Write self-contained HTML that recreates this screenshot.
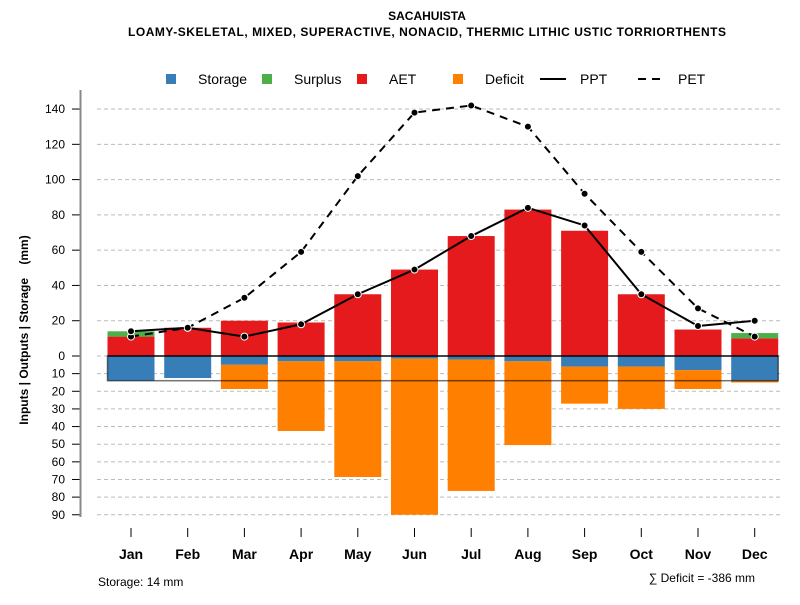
<!DOCTYPE html>
<html><head><meta charset="utf-8"><style>
body{margin:0;background:#fff}
svg{font-family:"Liberation Sans",sans-serif}
</style></head><body>
<svg id="c" width="800" height="600">
<text x="427" y="20" text-anchor="middle" font-size="12" font-weight="bold">SACAHUISTA</text>
<text x="427" y="36" text-anchor="middle" font-size="12" font-weight="bold" textLength="598">LOAMY-SKELETAL, MIXED, SUPERACTIVE, NONACID, THERMIC LITHIC USTIC TORRIORTHENTS</text>
<g>
<rect x="166" y="74" width="10" height="10" fill="#377eb8"/>
<text x="198" y="84" font-size="14">Storage</text>
<rect x="262" y="74" width="10" height="10" fill="#4daf4a"/>
<text x="294" y="84" font-size="14">Surplus</text>
<rect x="357" y="74" width="10" height="10" fill="#e41a1c"/>
<text x="389" y="84" font-size="14">AET</text>
<rect x="453" y="74" width="10" height="10" fill="#ff7f00"/>
<text x="485" y="84" font-size="14">Deficit</text>
<line x1="540" y1="79" x2="566" y2="79" stroke="#000" stroke-width="2"/>
<text x="580" y="84" font-size="14">PPT</text>
<line x1="638" y1="79" x2="664" y2="79" stroke="#000" stroke-width="2" stroke-dasharray="8,6"/>
<text x="678" y="84" font-size="14">PET</text>
</g>
<text transform="translate(28,330) rotate(-90)" text-anchor="middle" font-size="12" font-weight="bold">Inputs | Outputs | Storage &#160;&#160;&#160;(mm)</text>
<text x="98" y="586" font-size="12">Storage: 14 mm</text>
<text x="755" y="582" text-anchor="end" font-size="12">∑ Deficit = -386 mm</text>
<g id="g"></g>
</svg>
<script>
const months=["Jan","Feb","Mar","Apr","May","Jun","Jul","Aug","Sep","Oct","Nov","Dec"];
const aet=[11,16,20,19,35,49,68,83,71,35,15,10];
const surplus=[3,0,0,0,0,0,0,0,0,0,0,3];
const storageDraw=[14,12.5,5,3,3,1.5,2,3,6,6,8,14];
const deficit=[0,0,13.7,39.5,65.6,88.5,74.5,47.5,21,24,10.7,1];
const ppt=[14,16,11,18,35,49,68,84,74,35,17,20];
const pet=[11,16,33,59,102,138,142,130,92,59,27,11];
const posTicks=[0,20,40,60,80,100,120,140];
const negTicks=[10,20,30,40,50,60,70,80,90];
const capacity=14;
const NS="http://www.w3.org/2000/svg",g=document.getElementById('g');
const y0=356,k=1.764;
const yUp=v=>y0-v*k, yDn=v=>y0+v*k;
const xAt=i=>131+i*56.7;
const bw=47;
function mk(t,a){const e=document.createElementNS(NS,t);for(const n in a)e.setAttribute(n,a[n]);g.appendChild(e);return e;}
posTicks.forEach(v=>{
 const l=mk('line',{x1:97,x2:780,y1:yUp(v),y2:yUp(v),stroke:'#bbb','stroke-dasharray':'4,3'});
 
 
 mk('line',{x1:72,x2:80,y1:yUp(v),y2:yUp(v),stroke:'#000'});
 const t=mk('text',{x:65,y:yUp(v)+4,'text-anchor':'end','font-size':12});t.textContent=v;
 
 
});
negTicks.forEach(v=>{
 const l=mk('line',{x1:97,x2:780,y1:yDn(v),y2:yDn(v),stroke:'#bbb','stroke-dasharray':'4,3'});
 
 
 mk('line',{x1:72,x2:80,y1:yDn(v),y2:yDn(v),stroke:'#000'});
 const t=mk('text',{x:65,y:yDn(v)+4,'text-anchor':'end','font-size':12});t.textContent=v;
 
 
});
const ax=mk('line',{x1:80.5,x2:80.5,y1:90,y2:517,stroke:'#888','stroke-width':2});


months.forEach((m,i)=>{
 const x=xAt(i);
 const a=mk('rect',{x:x-bw/2,y:yUp(aet[i]),width:bw,height:aet[i]*k,fill:'#e41a1c'});
 
 
 if(surplus[i]>0){const s=mk('rect',{x:x-bw/2,y:yUp(aet[i]+surplus[i]),width:bw,height:surplus[i]*k,fill:'#4daf4a'});
  
  }
 const st=mk('rect',{x:x-bw/2,y:y0,width:bw,height:storageDraw[i]*k,fill:'#377eb8'});
 
 
 if(deficit[i]>0){const d=mk('rect',{x:x-bw/2,y:yDn(storageDraw[i]),width:bw,height:deficit[i]*k,fill:'#ff7f00'});
  
  }
 mk('line',{x1:x,x2:x,y1:528,y2:537,stroke:'#000'});
 const t=mk('text',{x:x,y:559,'text-anchor':'middle','font-size':14,'font-weight':'bold'});t.textContent=m;
 
 
});
const box=mk('rect',{x:xAt(0)-bw/2,y:y0,width:xAt(11)-xAt(0)+bw,height:capacity*k,fill:'none',stroke:'rgba(0,0,0,0.55)','stroke-width':1.5});


mk('line',{x1:xAt(0)-bw/2,x2:xAt(11)+bw/2,y1:y0,y2:y0,stroke:'#000','stroke-width':1.2});
function series(vals,name,dash){
 const p=mk('polyline',{points:vals.map((v,i)=>xAt(i)+','+yUp(v)).join(' '),fill:'none',stroke:'#000','stroke-width':2,'stroke-dasharray':dash});
 
 
 vals.forEach((v,i)=>{const c=mk('circle',{cx:xAt(i),cy:yUp(v),r:3.5,fill:'#000',stroke:'#fff','stroke-width':1});
  
  });
}
series(pet,'pet','8,6');
series(ppt,'ppt','none');
</script>
</body></html>
